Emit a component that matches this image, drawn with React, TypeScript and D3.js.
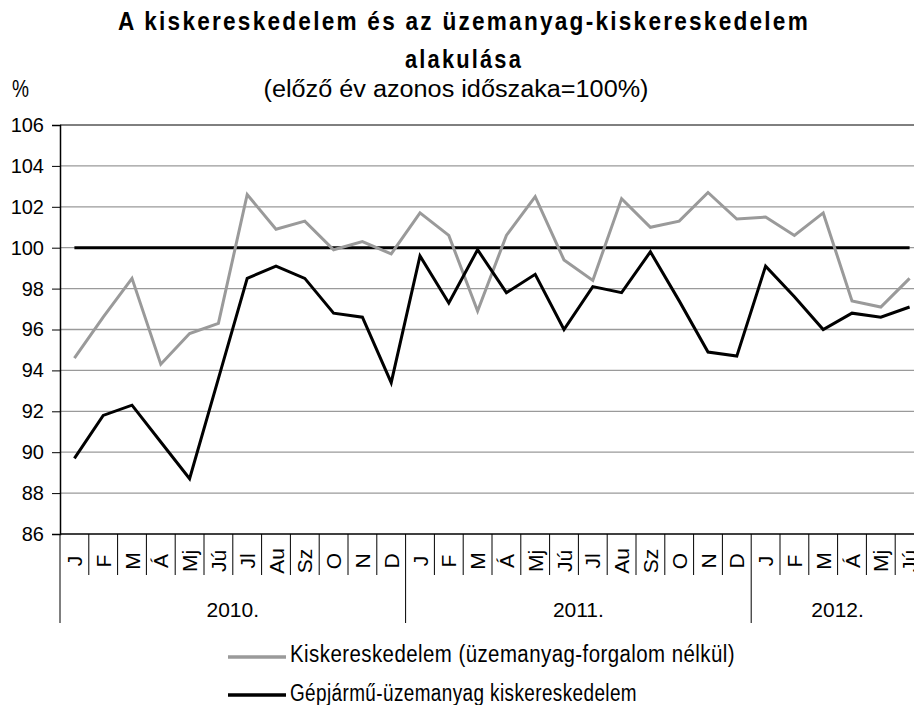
import React from 'react';
import * as d3 from 'd3';

const years = ['2010.', '2011.', '2012.'];
const months2010 = ['J', 'F', 'M', 'Á', 'Mj', 'Jú', 'Jl', 'Au', 'Sz', 'O', 'N', 'D'];
const months2011 = ['J', 'F', 'M', 'Á', 'Mj', 'Jú', 'Jl', 'Au', 'Sz', 'O', 'N', 'D'];
const months2012 = ['J', 'F', 'M', 'Á', 'Mj', 'Jú'];

// Kiskereskedelem (üzemanyag-forgalom nélkül)
const retail = [
  94.6, 96.6, 98.5, 94.3, 95.8, 96.3, 102.6, 100.9, 101.3, 99.9, 100.3, 99.7,
  101.7, 100.6, 96.9, 100.6, 102.5, 99.4, 98.4, 102.4, 101.0, 101.3, 102.7, 101.4,
  101.5, 100.6, 101.7, 97.4, 97.1, 98.5
];
// Gépjármű-üzemanyag kiskereskedelem
const fuel = [
  89.7, 91.8, 92.3, 90.5, 88.7, 93.6, 98.5, 99.1, 98.5, 96.8, 96.6, 93.4,
  99.6, 97.3, 99.9, 97.8, 98.7, 96.0, 98.1, 97.8, 99.8, 97.4, 94.9, 94.7,
  99.1, 97.6, 96.0, 96.8, 96.6, 97.1
];
const baseline = 100;

const yTicks = [86, 88, 90, 92, 94, 96, 98, 100, 102, 104, 106];
const legendLabels = ['Kiskereskedelem (üzemanyag-forgalom nélkül)', 'Gépjármű-üzemanyag kiskereskedelem'];
const titleLines = ['A kiskereskedelem és az üzemanyag-kiskereskedelem', 'alakulása'];
const subtitle = '(előző év azonos időszaka=100%)';

const FONT = '"Liberation Sans", Arial, sans-serif';
const GREY = '#9a9a9a';

const App = () => {
  const svgRef = React.useRef<SVGSVGElement | null>(null);

  React.useEffect(() => {
    document.body.style.margin = '0';
    const svg = d3.select(svgRef.current);
    svg.selectAll('*').remove();

    const groups = [months2010, months2011, months2012];
    const cats: { key: string; label: string; year: number }[] = [];
    groups.forEach((g, gi) => g.forEach((m, mi) => cats.push({ key: gi + '-' + mi, label: m, year: gi })));

    const left = 60;
    const step = 28.8;
    const top = 125;
    const bottom = 534;

    const x = d3.scaleBand()
      .domain(cats.map(c => c.key))
      .range([left, left + cats.length * step])
      .padding(0);
    const y = d3.scaleLinear().domain([86, 106]).range([bottom, top]);
    const cx = (i: number) => x(cats[i].key)! + x.bandwidth() / 2;
    const right = left + cats.length * step;

    // gridlines
    svg.append('g')
      .selectAll('line')
      .data(yTicks.filter(t => t !== 86 && t !== 106))
      .join('line')
      .attr('x1', left).attr('x2', right)
      .attr('y1', d => y(d)).attr('y2', d => y(d))
      .attr('stroke', GREY).attr('stroke-width', 1.3);

    // plot border top
    svg.append('line')
      .attr('x1', left).attr('x2', right)
      .attr('y1', y(106)).attr('y2', y(106))
      .attr('stroke', '#000').attr('stroke-width', 1);

    // y axis
    const yAxis = svg.append('g')
      .attr('transform', `translate(${left},0)`)
      .call(d3.axisLeft(y).tickValues(yTicks).tickSize(8).tickPadding(8));
    yAxis.select('.domain').attr('stroke', '#000').attr('stroke-width', 1.5);
    yAxis.selectAll('.tick line').attr('stroke', '#000');
    yAxis.selectAll('.tick text')
      .attr('font-family', FONT).attr('font-size', 20).attr('fill', '#000');

    // x axis line
    svg.append('line')
      .attr('x1', left).attr('x2', right)
      .attr('y1', bottom).attr('y2', bottom)
      .attr('stroke', '#000').attr('stroke-width', 1.5);

    // category separators
    const seps = d3.range(cats.length + 1);
    svg.append('g')
      .selectAll('line')
      .data(seps)
      .join('line')
      .attr('x1', i => left + i * step).attr('x2', i => left + i * step)
      .attr('y1', bottom)
      .attr('y2', i => (i === 0 || i === 12 || i === 24 || i === 30) ? 623 : 575)
      .attr('stroke', '#000').attr('stroke-width', 1);

    // month labels
    svg.append('g')
      .selectAll('text')
      .data(cats)
      .join('text')
      .attr('transform', d => `translate(${x(d.key)! + x.bandwidth() / 2 + 7.5},561) rotate(-90)`)
      .attr('text-anchor', 'middle')
      .attr('font-family', FONT).attr('font-size', 21)
      .text(d => d.label);

    // year labels
    svg.append('g')
      .selectAll('text')
      .data(years)
      .join('text')
      .attr('x', (d, i) => {
        const start = left + (i * 12) * step;
        return start + groups[i].length * step / 2;
      })
      .attr('y', 617)
      .attr('text-anchor', 'middle')
      .attr('font-family', FONT).attr('font-size', 21)
      .text(d => d);

    // lines
    const line = d3.line<number>()
      .x((d, i) => cx(i))
      .y(d => y(d));

    svg.append('path')
      .datum(cats.map(() => baseline))
      .attr('d', line)
      .attr('fill', 'none').attr('stroke', '#000').attr('stroke-width', 3);

    svg.append('path')
      .datum(retail)
      .attr('d', line)
      .attr('fill', 'none').attr('stroke', GREY).attr('stroke-width', 3)
      .attr('stroke-linejoin', 'miter');

    svg.append('path')
      .datum(fuel)
      .attr('d', line)
      .attr('fill', 'none').attr('stroke', '#000').attr('stroke-width', 3)
      .attr('stroke-linejoin', 'miter');

    // titles
    svg.append('text')
      .attr('x', 464).attr('y', 30)
      .attr('text-anchor', 'middle')
      .attr('font-family', FONT).attr('font-size', 25).attr('font-weight', 'bold')
      .attr('letter-spacing', 2.5)
      .attr('textLength', 692).attr('lengthAdjust', 'spacingAndGlyphs')
      .text(titleLines[0]);
    svg.append('text')
      .attr('x', 464).attr('y', 68)
      .attr('text-anchor', 'middle')
      .attr('font-family', FONT).attr('font-size', 25).attr('font-weight', 'bold')
      .attr('letter-spacing', 2.5)
      .attr('textLength', 118).attr('lengthAdjust', 'spacingAndGlyphs')
      .text(titleLines[1]);
    svg.append('text')
      .attr('x', 456).attr('y', 97)
      .attr('text-anchor', 'middle')
      .attr('font-family', FONT).attr('font-size', 23)
      .attr('textLength', 385).attr('lengthAdjust', 'spacingAndGlyphs')
      .text(subtitle);
    svg.append('text')
      .attr('x', 12).attr('y', 97)
      .attr('font-family', FONT).attr('font-size', 23)
      .attr('textLength', 17).attr('lengthAdjust', 'spacingAndGlyphs')
      .text('%');

    // legend
    const legendColors = [GREY, '#000'];
    const legendWidths = [445, 347];
    const lg = svg.append('g')
      .selectAll('g')
      .data(legendLabels)
      .join('g')
      .attr('transform', (d, i) => `translate(228,${657 + i * 38})`);
    lg.append('line')
      .attr('x1', 0).attr('x2', 58).attr('y1', 0).attr('y2', 0)
      .attr('stroke', (d, i) => legendColors[i]).attr('stroke-width', 3.5);
    lg.append('text')
      .attr('x', 62).attr('y', (d, i) => i === 0 ? 5 : 6)
      .attr('font-family', FONT).attr('font-size', 23)
      .attr('letter-spacing', 0.5)
      .attr('textLength', (d, i) => legendWidths[i]).attr('lengthAdjust', 'spacingAndGlyphs')
      .text(d => d);
  }, []);

  return <svg ref={svgRef} width={914} height={705} style={{ display: 'block', background: '#fff' }} />;
};

export default App;
